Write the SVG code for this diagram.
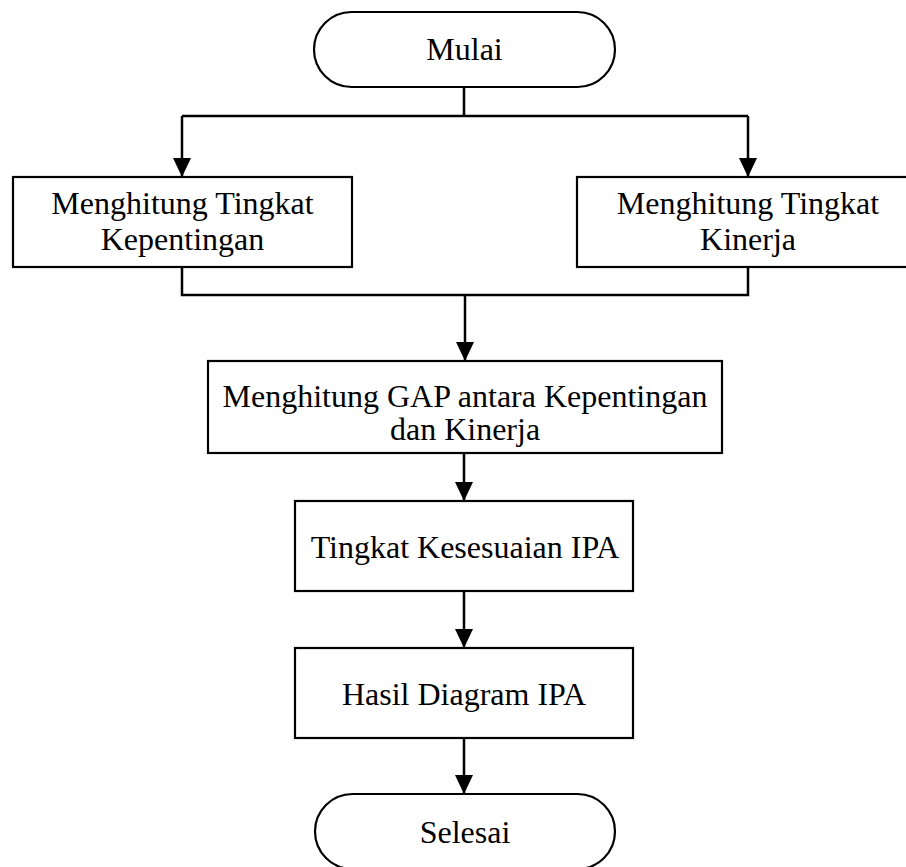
<svg xmlns="http://www.w3.org/2000/svg" width="906" height="867" viewBox="0 0 906 867">
<style>
.box{fill:#ffffff;stroke:#000000;stroke-width:2.2}
.lbl{font-family:"Liberation Serif","Times New Roman",serif;font-size:32px;fill:#000000;text-anchor:middle}
.ln{fill:none;stroke:#000000;stroke-width:2.5}
</style>
<defs>
<marker id="ah" markerUnits="userSpaceOnUse" markerWidth="20" markerHeight="18" refX="19" refY="9" orient="auto">
<path d="M0,0 L19,9 L0,18 Z" fill="#000000"/>
</marker>
</defs>
<rect width="906" height="867" fill="#ffffff"/>
<g id="connectors">
<path class="ln" d="M464,87 V116"/>
<path class="ln" d="M182,116 H748"/>
<path class="ln" d="M182,116 V177" marker-end="url(#ah)"/>
<path class="ln" d="M748,116 V177" marker-end="url(#ah)"/>
<path class="ln" d="M182,267 V295 H748 V267"/>
<path class="ln" d="M465,295 V361" marker-end="url(#ah)"/>
<path class="ln" d="M464,453 V501" marker-end="url(#ah)"/>
<path class="ln" d="M464,591 V648" marker-end="url(#ah)"/>
<path class="ln" d="M464,738 V794" marker-end="url(#ah)"/>
</g>
<g id="mulai">
<rect class="box" x="314" y="12" width="301" height="75" rx="37.5" ry="37.5"/>
<text class="lbl" x="464.5" y="60">Mulai</text>
</g>
<g id="kepentingan">
<rect class="box" x="13" y="177" width="339" height="90"/>
<text class="lbl" x="182.5" y="214">Menghitung Tingkat</text>
<text class="lbl" x="182.5" y="250">Kepentingan</text>
</g>
<g id="kinerja">
<rect class="box" x="577" y="177" width="340" height="90"/>
<text class="lbl" x="748" y="214">Menghitung Tingkat</text>
<text class="lbl" x="748" y="250">Kinerja</text>
</g>
<g id="gap">
<rect class="box" x="208" y="361" width="514" height="92"/>
<text class="lbl" x="465" y="407">Menghitung GAP antara Kepentingan</text>
<text class="lbl" x="465" y="440">dan Kinerja</text>
</g>
<g id="tingkat">
<rect class="box" x="295" y="501" width="338" height="90"/>
<text class="lbl" x="465" y="558">Tingkat Kesesuaian IPA</text>
</g>
<g id="hasil">
<rect class="box" x="295" y="648" width="338" height="90"/>
<text class="lbl" x="464" y="705">Hasil Diagram IPA</text>
</g>
<g id="selesai">
<rect class="box" x="315" y="794" width="300" height="75" rx="37.5" ry="37.5"/>
<text class="lbl" x="465" y="843">Selesai</text>
</g>
</svg>
